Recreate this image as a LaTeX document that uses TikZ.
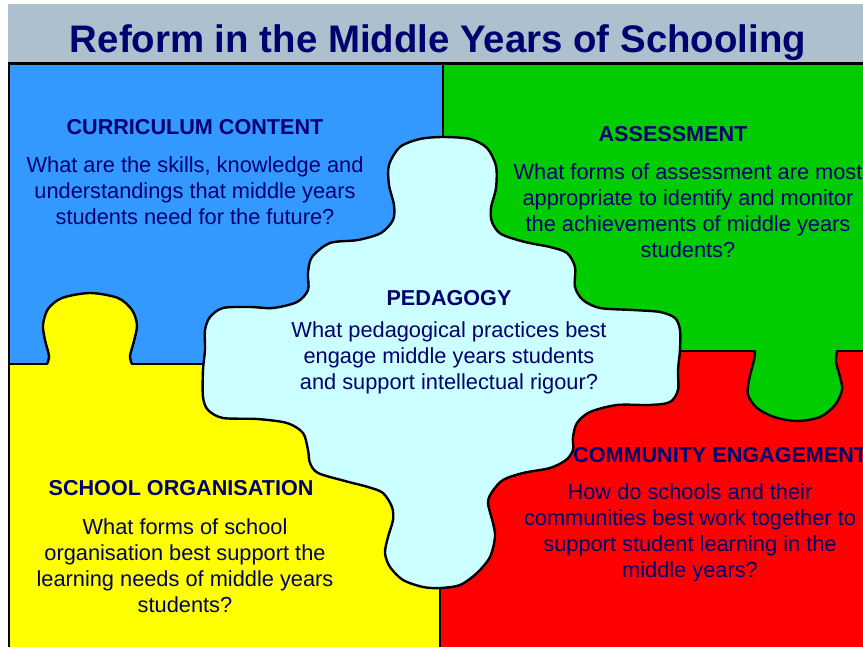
\documentclass[tikz,border=0pt]{standalone}
\usepackage{fontspec}
\setmainfont{Liberation Sans}
\definecolor{bandgray}{RGB}{174,191,205}
\definecolor{navy}{RGB}{0,0,110}
\definecolor{qblue}{RGB}{51,153,255}
\definecolor{qgreen}{RGB}{0,204,0}
\definecolor{qyellow}{RGB}{255,255,0}
\definecolor{qred}{RGB}{255,0,0}
\definecolor{qcyan}{RGB}{204,255,255}
\begin{document}
\begin{tikzpicture}[x=1pt,y=-1pt,
  outline/.style={draw=black,line width=2.4pt,line join=round,line cap=round},
  divider/.style={draw=black,line width=2.2pt},
  titletext/.style={font=\fontsize{38.4}{44}\selectfont\bfseries,text=navy,inner sep=0pt},
  head/.style={font=\fontsize{21.6}{26}\selectfont\bfseries,text=navy,inner sep=0pt},
  body/.style={font=\fontsize{21.8}{26}\selectfont,text=navy,align=center,inner sep=0pt}]

\useasboundingbox (0,0) rectangle (863,647);
\fill[white] (0,0) rectangle (863,647);

% title band
\fill[bandgray] (8,4) rectangle (863,63);
\node[titletext] (title) at (438,43) {Reform in the Middle Years of Schooling};

% four quadrants
\fill[qblue]   (9,63)   rectangle (443,364);
\fill[qgreen]  (443,63) rectangle (863,351);
\fill[qyellow] (9,364)  rectangle (440,647);
\fill[qred]    (440,351) rectangle (863,647);

% yellow tab reaching up into the blue piece
\fill[qyellow] plot[smooth] coordinates {(47,365) (49,356) (45,340) (43,325) (48,309) (62,298) (90,293) (118,298) (132,310) (137,325) (134,341) (130,356) (132,365)} -- cycle;
\draw[outline] plot[smooth] coordinates {(47,364) (49,356) (45,340) (43,325) (48,309) (62,298) (90,293) (118,298) (132,310) (137,325) (134,341) (130,356) (132,364)};

% green tab reaching down into the red piece
\fill[qgreen] plot[smooth] coordinates {(755,350) (754,360) (749,380) (748,395) (757,408) (774,417) (797,421) (820,417) (835,405) (842,390) (840,377) (836,362) (837,350)} -- cycle;
\draw[outline] plot[smooth] coordinates {(755,351) (754,360) (749,380) (748,395) (757,408) (774,417) (797,421) (820,417) (835,405) (842,390) (840,377) (836,362) (837,351)};

% straight seams between the pieces
\draw[divider] (443,63) -- (443,150);
\draw[divider] (9,364) -- (47,364);
\draw[divider] (132,364) -- (215,364);
\draw[divider] (670,351) -- (755,351);
\draw[divider] (837,351) -- (863,351);
\draw[divider] (440,575) -- (440,647);

% central piece
\filldraw[fill=qcyan,outline] plot[smooth cycle,tension=0.5] coordinates {
 (443,137) (470,139) (487,148) (496,166) (496,188) (491,208) (492,222) (501,234)
 (525,242) (550,247) (567,253) (575,267) (575,287) (583,300) (600,308) (633,310)
 (660,312) (675,318) (680,330) (680,350) (678,370) (678,390) (670,402) (650,405)
 (617,405) (590,412) (577,423) (573,437) (573,450) (566,460) (550,468) (523,473)
 (503,480) (492,492) (488,503) (493,523) (495,537) (490,557) (477,573) (460,585)
 (440,588) (423,587) (403,580) (390,567) (385,553) (388,537) (393,520) (392,507)
 (383,493) (368,487) (345,481) (318,473) (310,463) (308,450) (303,433) (287,423)
 (257,419) (223,418) (208,410) (203,397) (203,370) (205,350) (205,330) (210,317)
 (223,308) (250,307) (273,308) (297,302) (308,290) (308,273) (312,257) (330,243)
 (358,240) (381,233) (393,220) (394,205) (389,185) (389,165) (400,147) (420,139)};

% outer frame
\draw[divider] (9,63) -- (9,647);
\draw[divider] (8,63.5) -- (863,63.5);

% curriculum content
\node[head] (cchead) at (195,127) {CURRICULUM CONTENT};
\node[body] (ccbody) at (195,191) {What are the skills, knowledge and\\understandings that middle years\\students need for the future?};

% assessment
\node[head] (ashead) at (673,134) {ASSESSMENT};
\node[body] (asbody) at (688,211) {What forms of assessment are most\\appropriate to identify and monitor\\the achievements of middle years\\students?};

% pedagogy
\node[head] (pedhead) at (449,298) {PEDAGOGY};
\node[body] (pedbody) at (449,358) {What pedagogical practices best\\engage middle years students\\and support intellectual rigour?};

% community engagement
\node[head,anchor=west] (cehead) at (573,455) {COMMUNITY ENGAGEMENT};
\node[body] (cebody) at (690,533) {How do schools and their\\communities best work together to\\support student learning in the\\middle years?};

% school organisation
\node[head] (sohead) at (181,488) {SCHOOL ORGANISATION};
\node[body] (sobody) at (185,566) {What forms of school\\organisation best support the\\learning needs of middle years\\students?};
\end{tikzpicture}
\end{document}
